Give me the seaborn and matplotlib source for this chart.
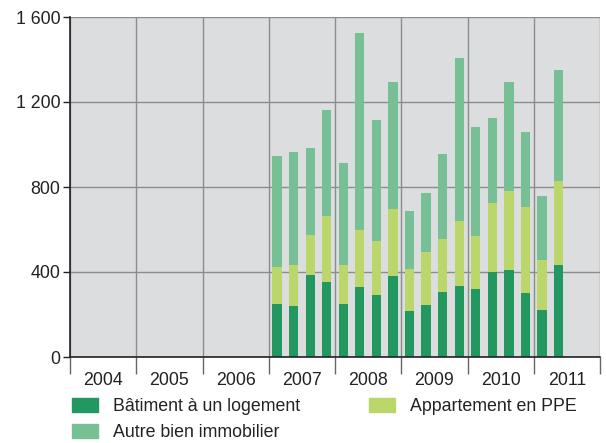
import numpy as np
import pandas as pd
import seaborn as sns
import matplotlib.pyplot as plt
from matplotlib.patches import Patch
from matplotlib.ticker import FuncFormatter

# quarterly data, 2007 Q1 - 2011 Q2
years = [2007] * 4 + [2008] * 4 + [2009] * 4 + [2010] * 4 + [2011] * 2
quarters = [1, 2, 3, 4] * 4 + [1, 2]
batiment = [251, 241, 387, 354, 251, 331, 293, 383, 218, 246,
            307, 336, 321, 401, 411, 303, 223, 434]
appartement = [174, 193, 189, 311, 183, 268, 254, 315, 198, 250,
               250, 306, 250, 326, 372, 405, 235, 396]
autre = [522, 532, 409, 499, 480, 927, 570, 598, 272, 277,
         400, 767, 513, 399, 513, 352, 301, 522]

year_ticks = list(range(2004, 2013))
year_labels = [str(y) for y in range(2004, 2012)]

names = ["Bâtiment à un logement", "Appartement en PPE", "Autre bien immobilier"]
colors = ["#22975F", "#BBD66B", "#77BF94"]

def make_plot():
    df = pd.DataFrame({"year": years, "q": quarters,
                       "bat": batiment, "ppe": appartement, "autre": autre})
    df["x"] = df["year"] + (df["q"] - 0.5) / 4
    df["c1"] = df["bat"]
    df["c2"] = df["bat"] + df["ppe"]
    df["c3"] = df["c2"] + df["autre"]

    sns.set_style("white")
    plt.rcParams["font.family"] = ["Liberation Sans", "DejaVu Sans"]

    fig = plt.figure(figsize=(6.06, 4.43), dpi=100)
    ax = fig.add_axes([70 / 606, 86 / 443, 530 / 606, 340 / 443])
    ax.set_facecolor("#DCDDDF")

    # stacked bars drawn as overlapping cumulative totals
    for col, c in zip(["c3", "c2", "c1"], [colors[2], colors[1], colors[0]]):
        sns.barplot(data=df, x="x", y=col, native_scale=True, color=c,
                    width=0.56, saturation=1, errorbar=None, ax=ax,
                    linewidth=0, zorder=3)

    ax.set_xlim(2004, 2012)
    ax.set_ylim(0, 1600)
    ax.set_yticks([0, 400, 800, 1200, 1600])
    ax.yaxis.set_major_formatter(FuncFormatter(lambda v, p: f"{int(v):,}".replace(",", " ")))

    ax.set_xticks(year_ticks)
    ax.set_xticklabels([])
    ax.set_xticks([y + 0.5 for y in range(2004, 2012)], minor=True)
    ax.set_xticklabels(year_labels, minor=True)
    ax.tick_params(axis="x", which="major", bottom=True, direction="out", length=12,
                   width=1, color="#666666")
    ax.tick_params(axis="x", which="minor", bottom=True, length=0, pad=11,
                   labelsize=12.8, labelcolor="#222222")
    ax.tick_params(axis="y", left=True, direction="out", length=5, width=1,
                   color="#222222", labelsize=12.8, labelcolor="#222222", pad=2)
    ax.set_xlabel("")
    ax.set_ylabel("")

    ax.grid(True, which="major", color="#8C8C8C", linewidth=1, zorder=1)
    ax.set_axisbelow(True)
    for s in ["top", "right"]:
        ax.spines[s].set_visible(False)
    for s in ["left", "bottom"]:
        ax.spines[s].set_color("#222222")
        ax.spines[s].set_linewidth(1.2)
        ax.spines[s].set_zorder(4)

    handles = [Patch(color=colors[0], label=names[0]),
               Patch(color=colors[2], label=names[2]),
               Patch(color=colors[1], label=names[1])]
    fig.legend(handles=handles, ncol=2, loc="upper left",
               bbox_to_anchor=(72 / 606, 1 - 398 / 443), frameon=False,
               borderpad=0, borderaxespad=0,
               fontsize=12.8, handlelength=1.46, handleheight=0.79,
               handletextpad=0.84, columnspacing=3.9, labelspacing=0.52,
               labelcolor="#222222")

    fig.savefig("out.png", dpi=100)
    plt.close(fig)

if __name__ == "__main__":
    make_plot()
